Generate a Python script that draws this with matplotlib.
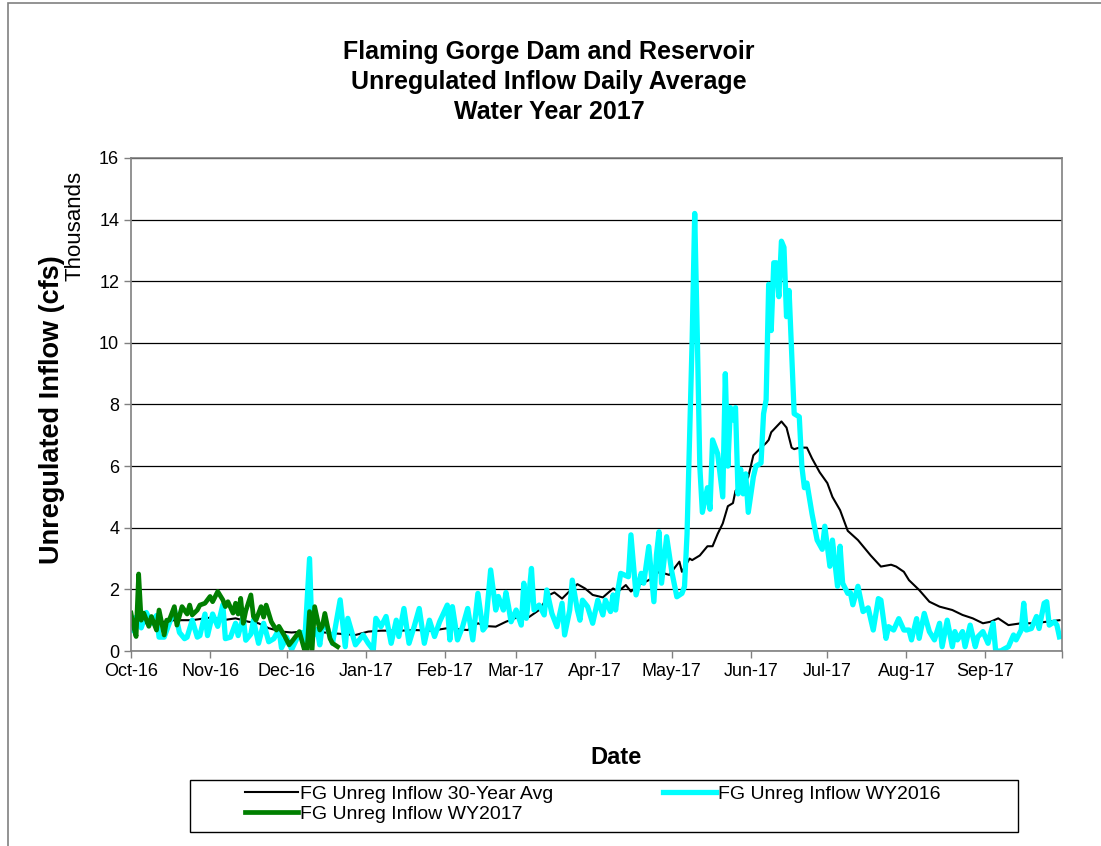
import numpy as np
import pandas as pd
import matplotlib
matplotlib.use("Agg")
import matplotlib.pyplot as plt
from matplotlib.patches import Rectangle

plt.rcParams['font.family'] = ['Liberation Sans', 'DejaVu Sans']

# days after 1 Oct 2016, values in thousands of cfs
avg_days = [0, 5, 13, 17, 24, 29, 32, 36, 41, 46, 50, 54, 59, 63, 67, 72, 80, 88, 93, 98,
            106, 111, 118, 124, 132, 136, 139, 143, 147, 152, 156, 160, 164, 166, 169, 173,
            175, 178, 181, 185, 189, 191, 194, 196, 199, 203, 207, 211, 215, 216, 219, 220,
            223, 226, 228, 230, 232, 234, 236, 237, 240, 242, 244, 247, 249, 250, 251, 255,
            257, 259, 260, 262, 265, 267, 270, 273, 275, 278, 281, 285, 287, 290, 294, 298,
            300, 303, 305, 309, 313, 317, 322, 326, 330, 334, 337, 340, 344, 349, 354, 359, 364]
avg_vals = [0.95, 0.9, 0.95, 1.0, 1.0, 1.06, 1.09, 1.0, 1.06, 0.95, 0.9, 0.74, 0.63, 0.6, 0.63,
            0.63, 0.57, 0.52, 0.63, 0.66, 0.66, 0.68, 0.66, 0.74, 0.68, 0.9, 0.81, 0.79, 0.95,
            1.11, 1.1, 1.33, 1.82, 1.9, 1.7, 2.03, 2.17, 2.03, 1.82, 1.74, 2.03, 1.93, 2.14, 1.93,
            2.14, 2.3, 2.57, 2.47, 2.9, 2.57, 3.0, 2.95, 3.1, 3.4, 3.4, 3.8, 4.14, 4.7, 4.8, 5.2,
            5.4, 5.65, 6.35, 6.6, 6.75, 6.85, 7.1, 7.45, 7.25, 6.6, 6.55, 6.6, 6.6, 6.25, 5.8,
            5.45, 5.0, 4.57, 3.9, 3.6, 3.4, 3.1, 2.74, 2.8, 2.74, 2.57, 2.3, 1.98, 1.6, 1.44, 1.33,
            1.17, 1.06, 0.9, 0.95, 1.06, 0.84, 0.9, 0.9, 0.95, 1.0]

wy16_days = [0, 1, 2, 4, 6, 8, 10, 11, 13, 15, 17, 19, 21, 22, 24, 26, 27, 29, 30, 32, 34, 36,
             37, 39, 41, 42, 44, 45, 47, 48, 50, 52, 54, 56, 58, 59, 61, 63, 65, 67, 68, 70, 71,
             73, 74, 75, 77, 79, 82, 84, 85, 88, 91, 93, 95, 96, 98, 100, 102, 104, 105, 107,
             109, 111, 113, 115, 117, 119, 121, 124, 125, 126, 128, 130, 132, 134, 136, 138, 139,
             141, 143, 144, 146, 147, 148, 149, 151, 153, 154, 155, 156, 157, 158, 160, 162, 163,
             165, 167, 169, 170, 172, 173, 175, 176, 177, 179, 181, 183, 185, 186, 188, 189, 190,
             191, 192, 195, 196, 198, 200, 201, 203, 205, 206, 207, 208, 210, 212, 214, 216, 217,
             218, 220, 221, 222, 223, 224, 226, 227, 228, 230, 232, 233, 234, 235, 236, 237, 238,
             239, 240, 241, 242, 244, 245, 247, 248, 249, 250, 251, 252, 253, 254, 255, 256, 257,
             258, 260, 262, 263, 264, 265, 267, 269, 271, 272, 274, 275, 277, 278, 279, 281, 282,
             283, 285, 287, 289, 291, 293, 294, 296, 297, 299, 301, 303, 305, 306, 308, 309, 311,
             313, 315, 317, 318, 320, 322, 323, 324, 326, 327, 329, 331, 332, 334, 336, 338, 339,
             341, 342, 344, 346, 347, 349, 350, 351, 353, 355, 356, 358, 359, 360, 362, 363, 364]
wy16_vals = [0.85, 0.65, 1.1, 0.75, 1.25, 0.9, 1.15, 0.45, 0.45, 0.9, 1.35, 0.6, 0.4, 0.45,
             1.0, 0.45, 0.5, 1.2, 0.5, 1.2, 0.8, 1.5, 0.4, 0.45, 0.9, 0.5, 1.1, 0.35, 0.55, 1.0,
             0.25, 0.9, 0.3, 0.4, 0.7, 0.1, 0.45, 0.05, 0.4, 0.6, 0.15, 3.0, 0.45, 0.7, 0.2, 0.8,
             0.75, 0.25, 1.66, 0.14, 1.06, 0.2, 0.52, 0.25, 0.03, 1.06, 0.79, 1.12, 0.25, 1.0,
             0.47, 1.38, 0.25, 0.79, 1.38, 0.25, 1.0, 0.47, 0.95, 1.49, 0.36, 1.44, 0.36, 0.79,
             1.38, 0.36, 1.87, 0.68, 0.79, 2.63, 1.33, 1.77, 1.33, 1.9, 1.45, 0.95, 1.33, 0.84,
             2.2, 1.06, 1.82, 2.68, 1.33, 1.49, 1.17, 1.98, 1.22, 0.79, 1.55, 0.52, 1.33, 2.3,
             1.33, 1.0, 1.65, 1.44, 0.9, 1.65, 1.17, 1.65, 1.28, 1.82, 1.33, 2.03, 2.52, 2.41,
             3.77, 1.82, 2.52, 2.2, 3.39, 1.6, 3.12, 3.87, 2.2, 3.71, 2.58, 1.76, 1.87, 2.09, 3.8,
             10.1, 14.2, 10.3, 6.0, 4.5, 5.3, 4.6, 6.85, 6.4, 5.0, 9.0, 6.0, 7.9, 7.5, 7.9, 5.1,
             5.9, 5.1, 5.75, 4.5, 5.65, 6.0, 6.1, 7.7, 8.15, 11.9, 10.4, 12.6, 12.6, 11.5, 13.3,
             13.1, 10.85, 11.7, 7.7, 7.6, 6.0, 5.3, 5.45, 4.45, 3.6, 3.3, 4.05, 2.75, 3.6, 2.1,
             3.4, 2.2, 1.87, 1.9, 1.5, 2.1, 1.28, 1.4, 0.68, 1.7, 1.65, 0.41, 0.79, 0.68, 1.05,
             0.68, 0.68, 0.36, 1.05, 0.41, 1.22, 0.63, 0.36, 0.9, 0.14, 1.0, 0.14, 0.63, 0.36,
             0.63, 0.14, 0.84, 0.14, 0.46, 0.63, 0.25, 0.9, 0.0, 0.0, 0.05, 0.14, 0.52, 0.36,
             0.68, 1.55, 0.68, 0.73, 1.12, 0.73, 1.55, 1.6, 0.84, 0.95, 0.84, 0.46]

wy17_days = [0, 1, 2, 3, 4, 5, 7, 8, 10, 11, 13, 14, 15, 17, 18, 20, 22, 23, 24, 26, 27, 29,
             31, 32, 34, 36, 37, 38, 40, 41, 42, 43, 44, 45, 47, 48, 49, 51, 52, 53, 55, 57, 58,
             60, 62, 63, 66, 68, 69, 70, 71, 72, 74, 75, 76, 78, 79, 81]
wy17_vals = [1.23, 0.8, 0.47, 2.5, 1.0, 1.23, 0.8, 1.12, 0.68, 1.33, 0.52, 1.0, 1.0, 1.44, 0.84,
             1.44, 1.2, 1.49, 1.17, 1.33, 1.49, 1.55, 1.77, 1.6, 1.93, 1.66, 1.44, 1.6, 1.23,
             1.55, 1.2, 1.71, 0.9, 1.3, 1.82, 1.12, 1.0, 1.44, 1.1, 1.49, 0.95, 0.68, 0.8, 0.52,
             0.2, 0.3, 0.63, 0.04, 0.0, 1.28, 0.04, 1.44, 0.68, 0.8, 1.22, 0.41, 0.25, 0.14]

start = np.datetime64('2016-10-01')


def to_dates(days):
    return start + np.array(days).astype('timedelta64[D]')


fig = plt.figure(figsize=(11.01, 8.46), dpi=100)
ax = fig.add_axes([131 / 1101, 1 - 651 / 846, 931 / 1101, 493 / 846])

l_avg, = ax.plot(to_dates(avg_days), avg_vals, color='black', lw=1.5)
l_16, = ax.plot(to_dates(wy16_days), wy16_vals, color='#00FFFF', lw=3.8)
l_17, = ax.plot(to_dates(wy17_days), wy17_vals, color='#007F00', lw=3.4)

ax.set_ylim(0, 16)
ax.set_yticks(range(0, 17, 2))
ax.set_xlim(np.datetime64('2016-10-01'), np.datetime64('2017-10-01'))
ticks = pd.date_range('2016-10-01', '2017-10-01', freq='MS')
ax.set_xticks(ticks)
ax.set_xticklabels([t.strftime('%b-%y') for t in ticks[:-1]] + [''])
ax.tick_params(labelsize=13, color='#808080', length=5, width=1)
ax.grid(axis='y', color='black', lw=0.9)
ax.set_axisbelow(True)
for s in ax.spines.values():
    s.set_color('#808080')
    s.set_linewidth(1.2)

fig.text(549 / 1101, 1 - 82 / 846, 'Flaming Gorge Dam and Reservoir\nUnregulated Inflow Daily Average\nWater Year 2017',
         ha='center', va='center', fontsize=18, fontweight='bold', linespacing=1.3)
fig.text(52 / 1101, 1 - 410 / 846, 'Unregulated Inflow (cfs)', rotation=90, ha='center', va='center',
         fontsize=19.5, fontweight='bold')
fig.text(75 / 1101, 1 - 226 / 846, 'Thousands', rotation=90, ha='center', va='center', fontsize=16)
fig.text(616 / 1101, 1 - 757 / 846, 'Date', ha='center', va='center', fontsize=17, fontweight='bold')

# legend: row-major order like the original (avg, WY2016 / WY2017)
leg = fig.legend([l_avg, l_17, l_16],
                 ['FG Unreg Inflow 30-Year Avg', 'FG Unreg Inflow WY2017', 'FG Unreg Inflow WY2016'],
                 loc='upper left', bbox_to_anchor=(245 / 1101, 1 - 785 / 846), ncol=2, fontsize=14,
                 frameon=False, handlelength=2.75, handletextpad=0.1, columnspacing=5.6,
                 borderpad=0, borderaxespad=0, labelspacing=0.15)
fig.patches.append(Rectangle((190 / 1101, 1 - 832 / 846), 828 / 1101, 52 / 846,
                             transform=fig.transFigure, fill=False, edgecolor='black', lw=1.0))

fig.patches.append(Rectangle((8 / 1101, -0.1), 1.2, 1 - 3 / 846 + 0.1, transform=fig.transFigure,
                             fill=False, edgecolor='#808080', lw=1.2))

fig.savefig('out.png', dpi=100)
